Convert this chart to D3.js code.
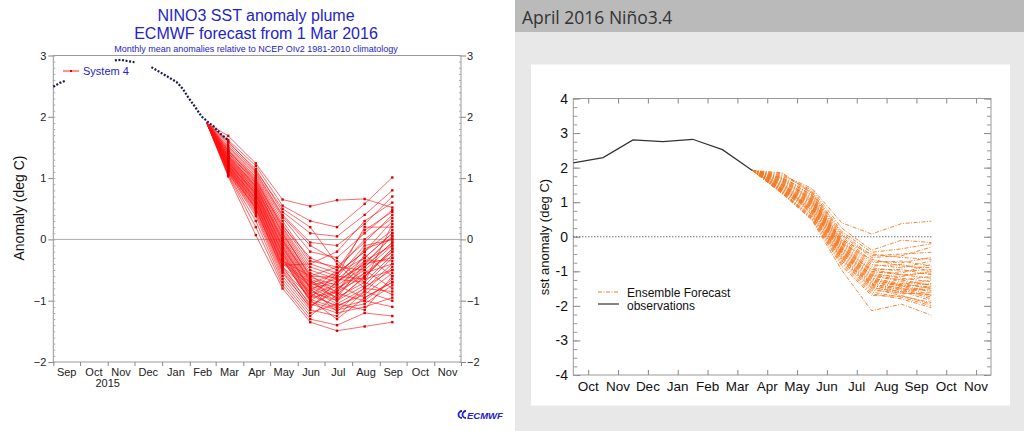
<!DOCTYPE html>
<html><head><meta charset="utf-8">
<script src="https://cdn.jsdelivr.net/npm/d3@7"></script>
<style>body{margin:0;background:#fff}svg{display:block}</style>
</head><body>
<svg id="c" width="1024" height="431"></svg>
<script>
// ---------------- DATA ----------------
const leftMonths = ["Sep","Oct","Nov","Dec","Jan","Feb","Mar","Apr","May","Jun","Jul","Aug","Sep","Oct","Nov"];
const leftYTicks = [-2,-1,0,1,2,3];
const obsLDates = ["2015-09-01","2015-09-08","2015-09-15","2015-10-01",
  "2015-11-09","2015-11-16","2015-11-23","2015-12-01","2015-12-10",
  "2015-12-20","2015-12-27","2016-01-03","2016-01-10","2016-01-17","2016-01-24","2016-01-31",
  "2016-02-07","2016-02-14","2016-02-21","2016-02-28","2016-03-06","2016-03-15"];
const obsLVals = [2.49,2.55,2.59,null,
  2.92,2.93,2.91,2.89,null,
  2.81,2.75,2.69,2.63,2.57,2.46,2.30,
  2.16,2.01,1.92,1.84,1.73,1.62];
const fanOriginLDate = "2016-02-20";
const fanOriginLVal = 1.90;
const fcLDates = ["2016-03-15","2016-04-15","2016-05-15","2016-06-15","2016-07-15","2016-08-15","2016-09-15"];
const leftMembers = [
 [1.69,1.24,0.65,0.54,0.64,0.66,0.52],
 [1.62,1.20,0.55,0.30,0.20,0.58,1.01],
 [1.58,1.15,0.45,0.10,0.05,0.40,0.80],
 [1.55,1.10,0.40,-0.05,-0.10,0.25,0.70],
 [1.50,1.05,0.35,-0.20,-0.30,0.10,0.48],
 [1.48,1.02,0.30,-0.35,-0.45,-0.05,0.40],
 [1.45,1.00,0.25,-0.40,-0.55,-0.20,0.30],
 [1.44,0.98,0.20,-0.45,-0.60,0.20,0.20],
 [1.42,0.95,0.18,-0.50,-0.65,-0.30,0.10],
 [1.40,0.93,0.15,-0.55,-0.70,-0.40,0.05],
 [1.38,0.90,0.12,-0.60,-0.62,-0.10,0.00],
 [1.36,0.88,0.10,-0.62,-0.75,-0.45,-0.05],
 [1.35,0.86,0.05,-0.65,-0.80,-0.50,-0.10],
 [1.34,0.85,0.02,-0.68,-0.85,-0.60,-0.15],
 [1.33,0.83,0.00,-0.70,-0.90,-0.55,-0.20],
 [1.32,0.82,-0.03,-0.72,-0.55,-0.20,0.15],
 [1.30,0.80,-0.05,-0.75,-0.95,-0.70,-0.25],
 [1.29,0.78,-0.08,-0.78,-1.00,-0.75,-0.30],
 [1.28,0.76,-0.10,-0.80,-0.70,-0.35,-0.35],
 [1.27,0.75,-0.12,-0.82,-1.05,-0.80,-0.40],
 [1.26,0.73,-0.15,-0.85,-0.50,0.00,0.35],
 [1.25,0.72,-0.18,-0.88,-1.10,-0.85,-0.45],
 [1.24,0.70,-0.20,-0.90,-0.60,-0.65,-0.50],
 [1.23,0.68,-0.22,-0.92,-1.08,-0.90,-0.55],
 [1.22,0.66,-0.25,-0.95,-0.85,-0.25,-0.60],
 [1.21,0.65,-0.28,-0.98,-1.12,-1.00,-0.65],
 [1.20,0.63,-0.30,-1.00,-0.75,-0.95,-0.70],
 [1.19,0.62,-0.32,-1.02,-1.15,-1.05,-0.75],
 [1.18,0.60,-0.35,-0.60,-0.45,-0.50,-0.80],
 [1.17,0.58,-0.38,-0.70,-0.95,-0.40,-0.30],
 [1.16,0.56,-0.40,-0.75,-0.65,-0.70,-0.90],
 [1.15,0.54,-0.42,-0.40,-0.20,0.30,0.60],
 [1.14,0.52,-0.45,-0.85,-1.00,-0.60,-0.20],
 [1.13,0.50,-0.48,-0.95,-0.55,-0.30,0.10],
 [1.12,0.48,-0.50,-1.05,-1.20,-1.10,-0.95],
 [1.10,0.45,-0.55,-1.10,-0.80,-0.55,-0.40],
 [1.09,0.42,-0.60,-1.15,-1.25,-0.85,-1.00],
 [1.08,0.38,-0.65,-1.20,-1.05,-1.15,-0.60],
 [1.06,0.30,-0.70,-1.25,-0.90,-0.45,-0.05],
 [1.05,0.20,-0.75,-1.30,-1.40,-1.20,-1.25],
 [1.03,0.07,-0.80,-1.35,-1.49,-1.42,-1.35],
 [1.60,1.12,0.50,0.20,-0.40,-0.80,-0.85],
 [1.52,1.08,0.38,-0.10,-0.35,-0.70,0.25],
 [1.46,0.96,0.22,-0.30,-0.50,0.15,0.45],
 [1.41,0.92,0.08,-0.58,-0.88,-1.00,-1.10],
 [1.37,0.87,-0.02,-0.66,-0.98,-0.62,-0.15],
 [1.31,0.79,-0.14,-0.80,-1.18,-0.78,-0.50],
 [1.26,0.74,-0.24,-0.93,-0.72,-0.15,0.00],
 [1.21,0.67,-0.34,-0.99,-1.30,-0.95,-0.70],
 [1.16,0.59,-0.44,-1.08,-0.85,-0.35,-0.10],
 [1.11,0.51,-0.52,-1.12,-0.68,-0.40,0.05]
];

const rightMonths = ["Oct","Nov","Dec","Jan","Feb","Mar","Apr","May","Jun","Jul","Aug","Sep","Oct","Nov"];
const rightYTicks = [-4,-3,-2,-1,0,1,2,3,4];
const obsRPos = [-0.5,0.5,1.5,2.5,3.5,4.5,5.5];
const obsRVals = [2.14,2.29,2.80,2.75,2.82,2.52,1.92];
const fcRPos = [5.5,6.5,7.5,8.5,9.5,10.5,11.5];
const rightMembers = [
 [1.78,1.40,0.40,0.08,0.38,0.45],
 [1.75,1.35,0.25,-0.39,-0.10,-0.17],
 [1.82,1.30,0.15,-0.45,-0.35,-0.20],
 [1.70,1.28,0.10,-0.55,-0.50,-0.45],
 [1.85,1.25,0.05,-0.60,-0.55,-0.30],
 [1.68,1.22,0.00,-0.70,-0.75,-0.60],
 [1.72,1.20,-0.05,-0.75,-0.70,-0.85],
 [1.65,1.18,-0.10,-0.80,-0.90,-0.70],
 [1.60,1.15,-0.12,-0.85,-0.80,-1.00],
 [1.62,1.12,-0.15,-0.90,-1.00,-0.95],
 [1.58,1.10,-0.18,-0.95,-0.95,-1.10],
 [1.55,1.08,-0.20,-1.00,-1.10,-1.20],
 [1.52,1.05,-0.22,-1.02,-1.05,-0.80],
 [1.50,1.02,-0.25,-1.05,-1.20,-1.30],
 [1.48,1.00,-0.28,-1.10,-1.15,-1.00],
 [1.45,0.98,-0.30,-1.12,-1.30,-1.40],
 [1.42,0.95,-0.32,-1.15,-1.25,-1.15],
 [1.40,0.92,-0.35,-1.18,-1.40,-1.45],
 [1.38,0.90,-0.38,-1.20,-1.35,-1.50],
 [1.36,0.88,-0.40,-1.22,-1.45,-1.35],
 [1.35,0.85,-0.42,-1.25,-1.40,-1.60],
 [1.33,0.82,-0.45,-1.28,-1.38,-1.25],
 [1.30,0.80,-0.48,-1.30,-1.50,-1.55],
 [1.28,0.78,-0.50,-1.32,-1.42,-1.70],
 [1.55,0.75,-0.52,-1.35,-1.55,-1.45],
 [1.50,0.72,-0.55,-1.38,-1.48,-1.75],
 [1.45,0.70,-0.58,-1.40,-1.60,-1.50],
 [1.40,0.68,-0.60,-1.42,-1.52,-1.80],
 [1.35,0.65,-0.62,-1.45,-1.65,-1.62],
 [1.60,0.62,-0.65,-1.48,-1.58,-1.85],
 [1.30,0.60,-0.68,-1.50,-1.70,-1.95],
 [1.25,0.58,-0.70,-1.55,-1.62,-1.68],
 [1.32,0.55,-0.75,-1.60,-1.75,-2.00],
 [1.28,0.52,-0.80,-1.65,-1.80,-2.05],
 [1.26,0.50,-0.85,-1.70,-1.72,-1.90],
 [1.25,0.48,-0.97,-2.14,-1.95,-2.27],
 [1.70,1.05,-0.10,-0.50,-0.60,-0.65],
 [1.66,1.00,-0.20,-0.65,-0.85,-0.90],
 [1.48,0.95,-0.35,-0.95,-1.10,-1.05],
 [1.38,0.85,-0.45,-1.10,-1.25,-1.40]
];

// ---------------- DRAW ----------------
const svg = d3.select("#c");
const parse = d3.timeParse("%Y-%m-%d");
const F = "'Liberation Sans', Arial, Helvetica, sans-serif";

// backgrounds
svg.append("rect").attr("x",0).attr("y",0).attr("width",515).attr("height",431).attr("fill","#fff");
svg.append("rect").attr("x",515).attr("y",0).attr("width",509).attr("height",431).attr("fill","#e8e8e8");
svg.append("rect").attr("x",515).attr("y",0).attr("width",509).attr("height",32).attr("fill","#bababa");
svg.append("text").attr("x",522).attr("y",24).attr("font-family","'Open Sans', sans-serif")
  .attr("font-size",17.5).attr("fill","#333").text("April 2016 Niño3.4");
svg.append("rect").attr("x",531).attr("y",64.5).attr("width",479).attr("height",341).attr("fill","#fff");

// ===== LEFT CHART =====
const xL = d3.scaleTime().domain([new Date(2015,8,1), new Date(2016,11,1)]).range([53.3,461]);
const yL = d3.scaleLinear().domain([-2,3]).range([362,55.5]);
const gL = svg.append("g");
const blue = "#2424c8";

gL.append("text").attr("x",256).attr("y",21).attr("text-anchor","middle").attr("font-family",F)
  .attr("font-size",16).attr("fill",blue).text("NINO3 SST anomaly plume");
gL.append("text").attr("x",256).attr("y",39).attr("text-anchor","middle").attr("font-family",F)
  .attr("font-size",16).attr("fill",blue).text("ECMWF forecast from 1 Mar 2016");
gL.append("text").attr("x",256).attr("y",52).attr("text-anchor","middle").attr("font-family",F)
  .attr("font-size",9).attr("fill",blue).text("Monthly mean anomalies relative to NCEP OIv2 1981-2010 climatology");

// frame
gL.append("rect").attr("x",53.3).attr("y",55.5).attr("width",461-53.3).attr("height",362-55.5)
  .attr("fill","none").attr("stroke","#999").attr("stroke-width",1);
// zero line
gL.append("line").attr("x1",53.3).attr("x2",461).attr("y1",yL(0)).attr("y2",yL(0)).attr("stroke","#aaa").attr("stroke-width",1);

// y axes
function styleAxis(g, col){ g.select(".domain").remove(); g.selectAll(".tick line").attr("stroke",col); }
const minorL = d3.range(-2,3.001,0.1).map(v=>+v.toFixed(2));
const ayl = gL.append("g").attr("transform","translate(53.3,0)")
  .call(d3.axisLeft(yL).tickValues(leftYTicks).tickSize(5).tickPadding(2).tickFormat(d3.format("d")));
styleAxis(ayl,"#888");
ayl.selectAll("text").attr("font-family",F).attr("font-size",11).attr("fill","#222");
const ayl2 = gL.append("g").attr("transform","translate(53.3,0)")
  .call(d3.axisRight(yL).tickValues(minorL).tickSize(2).tickFormat(""));
styleAxis(ayl2,"#aaa");
const ayr = gL.append("g").attr("transform","translate(461,0)")
  .call(d3.axisRight(yL).tickValues(leftYTicks).tickSize(5).tickPadding(1).tickFormat(d3.format("d")));
styleAxis(ayr,"#888");
ayr.selectAll("text").attr("font-family",F).attr("font-size",11).attr("fill","#222");
const ayr2 = gL.append("g").attr("transform","translate(461,0)")
  .call(d3.axisLeft(yL).tickValues(minorL).tickSize(2).tickFormat(""));
styleAxis(ayr2,"#aaa");

// x axis
const monthStarts = d3.timeMonth.range(new Date(2015,8,1), new Date(2016,11,2));
const axl = gL.append("g").attr("transform","translate(0,362)")
  .call(d3.axisBottom(xL).tickValues(monthStarts).tickSize(4).tickFormat(""));
styleAxis(axl,"#888");
gL.append("g").selectAll("text").data(leftMonths).join("text")
  .attr("x",(d,i)=>{const a=monthStarts[i], b=monthStarts[i+1]; return (xL(a)+xL(b))/2;})
  .attr("y",376).attr("text-anchor","middle").attr("font-family",F).attr("font-size",11).attr("fill","#222")
  .text(d=>d);
gL.append("text").attr("x",xL(new Date(2015,10,1))).attr("y",387).attr("text-anchor","middle")
  .attr("font-family",F).attr("font-size",11).attr("fill","#222").text("2015");

gL.append("text").attr("transform","translate(24,208) rotate(-90)").attr("text-anchor","middle")
  .attr("font-family",F).attr("font-size",14).attr("fill","#111").text("Anomaly (deg C)");

// forecast members
const lineL = d3.line().x(d=>xL(d.t)).y(d=>yL(d.v));
const fcLD = fcLDates.map(parse);
const originL = {t: parse(fanOriginLDate), v: fanOriginLVal};
const memL = leftMembers.map(m => [originL].concat(m.map((v,i)=>({t:fcLD[i], v}))));
gL.append("g").selectAll("path").data(memL).join("path")
  .attr("d",lineL).attr("fill","none").attr("stroke","#ff1010").attr("stroke-width",0.7).attr("stroke-opacity",0.9);
gL.append("g").selectAll("rect").data(memL.flatMap(m=>m.slice(1))).join("rect")
  .attr("x",d=>xL(d.t)-1.2).attr("y",d=>yL(d.v)-1.2).attr("width",2.4).attr("height",2.4).attr("fill","#e00000");

// observations
const obsL = obsLDates.map((d,i)=>({t:parse(d), v:obsLVals[i]}));
gL.append("path").datum(obsL)
  .attr("d", d3.line().defined(d=>d.v!=null).x(d=>xL(d.t)).y(d=>yL(d.v)))
  .attr("fill","none").attr("stroke","#1c1c55").attr("stroke-width",2.2).attr("stroke-dasharray","2,1.6");

// legend
gL.append("line").attr("x1",63).attr("x2",79).attr("y1",71).attr("y2",71).attr("stroke","#ff2020").attr("stroke-width",1);
gL.append("rect").attr("x",70).attr("y",70).attr("width",2).attr("height",2).attr("fill","#e00000");
gL.append("text").attr("x",83).attr("y",75).attr("font-family",F).attr("font-size",11).attr("fill",blue).text("System 4");

// ECMWF logo
const logo = gL.append("g").attr("transform","translate(456,410)");
logo.append("path").attr("d","M6,1 A3.5,3.5 0 1 0 6,8").attr("fill","none").attr("stroke","#2222cc").attr("stroke-width",1.8);
logo.append("path").attr("d","M10,1 A3.5,3.5 0 1 0 10,8").attr("fill","none").attr("stroke","#2222cc").attr("stroke-width",1.8);
logo.append("text").attr("x",11).attr("y",8.5).attr("font-family",F).attr("font-size",9.5).attr("font-weight","bold")
  .attr("font-style","italic").attr("fill","#2222cc").text("ECMWF");

// ===== RIGHT CHART =====
const xR = d3.scaleLinear().domain([-0.5,13.5]).range([573.3,991]);
const yR = d3.scaleLinear().domain([-4,4]).range([375,98.5]);
const gR = svg.append("g");
const monthIdx = d3.range(rightMonths.length);

gR.append("rect").attr("x",573.3).attr("y",98.5).attr("width",991-573.3).attr("height",375-98.5)
  .attr("fill","none").attr("stroke","#999").attr("stroke-width",1);
const minorR = d3.range(-4,4.001,0.25).map(v=>+v.toFixed(2));
const ryl = gR.append("g").attr("transform","translate(573.3,0)")
  .call(d3.axisRight(yR).tickValues(rightYTicks).tickSize(7).tickFormat(""));
styleAxis(ryl,"#888");
const ryl2 = gR.append("g").attr("transform","translate(573.3,0)")
  .call(d3.axisRight(yR).tickValues(minorR).tickSize(4).tickFormat(""));
styleAxis(ryl2,"#999");
gR.append("g").selectAll("text").data(rightYTicks).join("text")
  .attr("x",568).attr("y",d=>yR(d)+5).attr("text-anchor","end").attr("font-family",F).attr("font-size",14).attr("fill","#111")
  .text(d=>d);
const ryr = gR.append("g").attr("transform","translate(991,0)")
  .call(d3.axisLeft(yR).tickValues(rightYTicks).tickSize(7).tickFormat(""));
styleAxis(ryr,"#888");
const ryr2 = gR.append("g").attr("transform","translate(991,0)")
  .call(d3.axisLeft(yR).tickValues(minorR).tickSize(4).tickFormat(""));
styleAxis(ryr2,"#999");
const rxb = gR.append("g").attr("transform","translate(0,375)")
  .call(d3.axisTop(xR).tickValues(monthIdx).tickSize(5).tickFormat(""));
styleAxis(rxb,"#888");
const rxt = gR.append("g").attr("transform","translate(0,98.5)")
  .call(d3.axisBottom(xR).tickValues(monthIdx).tickSize(5).tickFormat(""));
styleAxis(rxt,"#888");
gR.append("g").selectAll("text").data(rightMonths).join("text")
  .attr("x",(d,i)=>xR(i)).attr("y",391).attr("text-anchor","middle").attr("font-family",F).attr("font-size",13.5).attr("fill","#111")
  .text(d=>d);
gR.append("text").attr("transform","translate(549,237) rotate(-90)").attr("text-anchor","middle")
  .attr("font-family",F).attr("font-size",13).attr("fill","#111").text("sst anomaly (deg C)");

// zero dotted line
gR.append("line").attr("x1",xR(-0.5)).attr("x2",xR(11.5)).attr("y1",yR(0)).attr("y2",yR(0))
  .attr("stroke","#333").attr("stroke-width",1).attr("stroke-dasharray","1,2");

const lineR = d3.line().x(d=>xR(d.p)).y(d=>yR(d.v));
const orange = "#f47a26";
const memR = rightMembers.map(m => [{p:fcRPos[0], v:obsRVals[obsRVals.length-1]}].concat(m.map((v,i)=>({p:fcRPos[i+1], v}))));
gR.append("g").selectAll("path").data(memR).join("path")
  .attr("d",lineR).attr("fill","none").attr("stroke",orange).attr("stroke-width",1).attr("stroke-opacity",0.9)
  .attr("stroke-dasharray","4,1.5,1,1.5");
gR.append("path").datum(obsRPos.map((p,i)=>({p, v:obsRVals[i]})))
  .attr("d",lineR).attr("fill","none").attr("stroke","#333").attr("stroke-width",1.2);

// legend
gR.append("line").attr("x1",598).attr("x2",619).attr("y1",292).attr("y2",292).attr("stroke",orange).attr("stroke-width",1)
  .attr("stroke-dasharray","4,1.5,1,1.5");
gR.append("text").attr("x",627).attr("y",296.5).attr("font-family",F).attr("font-size",12).attr("fill","#111").text("Ensemble Forecast");
gR.append("line").attr("x1",598).attr("x2",619).attr("y1",304).attr("y2",304).attr("stroke","#333").attr("stroke-width",1.2);
gR.append("text").attr("x",627).attr("y",309.5).attr("font-family",F).attr("font-size",12).attr("fill","#111").text("observations");
</script>
</body></html>
